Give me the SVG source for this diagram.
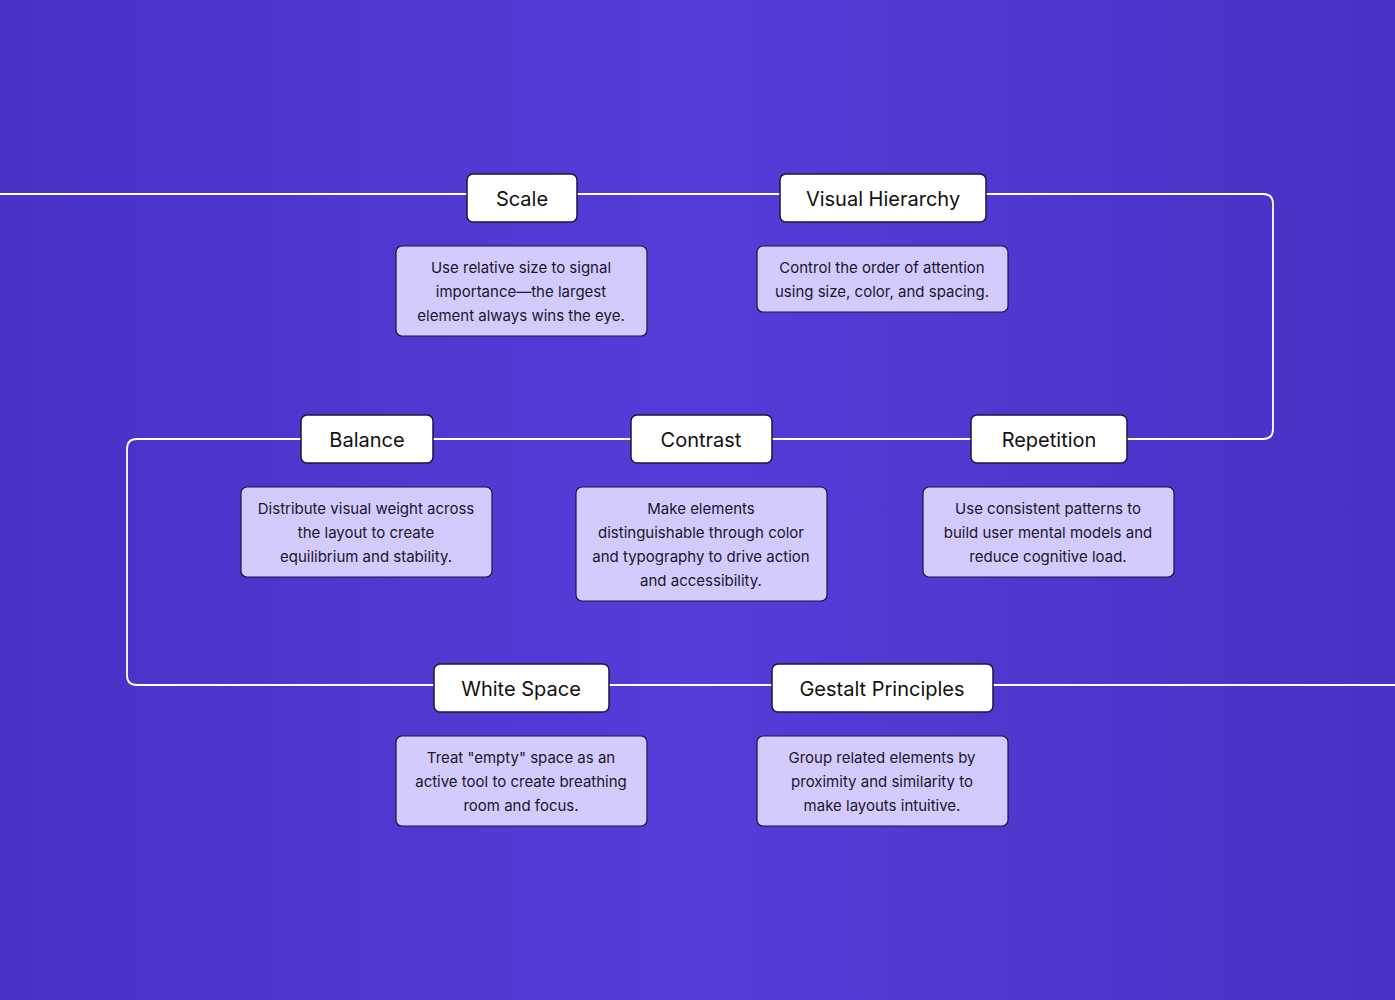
<svg xmlns="http://www.w3.org/2000/svg" width="1395" height="1000" viewBox="0 0 1395 1000">
<defs>
<linearGradient id="bg" x1="0" y1="0" x2="1" y2="0">
<stop offset="0" stop-color="#4a31c6"/><stop offset="0.5" stop-color="#543dd8"/><stop offset="1" stop-color="#4a31c4"/>
</linearGradient>
<style>
.t{fill:#fff;stroke:#1c1640;stroke-width:1.5}
.d{fill:#d3cbfb;stroke:#1c1640;stroke-width:1.2}
.tt{font-family:Inter,"Liberation Sans",sans-serif;font-size:20px;fill:#111;text-anchor:middle}
.dt{font-family:Inter,"Liberation Sans",sans-serif;font-size:15px;fill:#1a1630;text-anchor:middle}
.c{fill:none;stroke:#fff;stroke-width:1.8}
</style>
</defs>
<rect width="1395" height="1000" fill="url(#bg)"/>
<g id="connectors">
<path class="c" d="M0 194 H1263 Q1273 194 1273 204 V429 Q1273 439 1263 439 H137 Q127 439 127 449 V675 Q127 685 137 685 H1395"/>
</g>
<g id="scale"><rect class="t" x="467" y="174" width="110" height="48" rx="6"/><text class="tt" x="522" y="206">Scale</text></g>
<g id="scale-desc"><rect class="d" x="396" y="246" width="251" height="90" rx="6"/><text class="dt" x="521" y="273">Use relative size to signal</text><text class="dt" x="521" y="297">importance—the largest</text><text class="dt" x="521" y="321">element always wins the eye.</text></g>
<g id="hierarchy"><rect class="t" x="780" y="174" width="206" height="48" rx="6"/><text class="tt" x="883" y="206">Visual Hierarchy</text></g>
<g id="hierarchy-desc"><rect class="d" x="757" y="246" width="251" height="66" rx="6"/><text class="dt" x="882" y="273">Control the order of attention</text><text class="dt" x="882" y="297">using size, color, and spacing.</text></g>
<g id="balance"><rect class="t" x="301" y="415" width="132" height="48" rx="6"/><text class="tt" x="367" y="447">Balance</text></g>
<g id="balance-desc"><rect class="d" x="241" y="487" width="251" height="90" rx="6"/><text class="dt" x="366" y="514">Distribute visual weight across</text><text class="dt" x="366" y="538">the layout to create</text><text class="dt" x="366" y="562">equilibrium and stability.</text></g>
<g id="contrast"><rect class="t" x="631" y="415" width="141" height="48" rx="6"/><text class="tt" x="701" y="447">Contrast</text></g>
<g id="contrast-desc"><rect class="d" x="576" y="487" width="251" height="114" rx="6"/><text class="dt" x="701" y="514">Make elements</text><text class="dt" x="701" y="538">distinguishable through color</text><text class="dt" x="701" y="562">and typography to drive action</text><text class="dt" x="701" y="586">and accessibility.</text></g>
<g id="repetition"><rect class="t" x="971" y="415" width="156" height="48" rx="6"/><text class="tt" x="1049" y="447">Repetition</text></g>
<g id="repetition-desc"><rect class="d" x="923" y="487" width="251" height="90" rx="6"/><text class="dt" x="1048" y="514">Use consistent patterns to</text><text class="dt" x="1048" y="538">build user mental models and</text><text class="dt" x="1048" y="562">reduce cognitive load.</text></g>
<g id="whitespace"><rect class="t" x="434" y="664" width="175" height="48" rx="6"/><text class="tt" x="521" y="696">White Space</text></g>
<g id="whitespace-desc"><rect class="d" x="396" y="736" width="251" height="90" rx="6"/><text class="dt" x="521" y="763">Treat "empty" space as an</text><text class="dt" x="521" y="787">active tool to create breathing</text><text class="dt" x="521" y="811">room and focus.</text></g>
<g id="gestalt"><rect class="t" x="772" y="664" width="221" height="48" rx="6"/><text class="tt" x="882" y="696">Gestalt Principles</text></g>
<g id="gestalt-desc"><rect class="d" x="757" y="736" width="251" height="90" rx="6"/><text class="dt" x="882" y="763">Group related elements by</text><text class="dt" x="882" y="787">proximity and similarity to</text><text class="dt" x="882" y="811">make layouts intuitive.</text></g>
</svg>
